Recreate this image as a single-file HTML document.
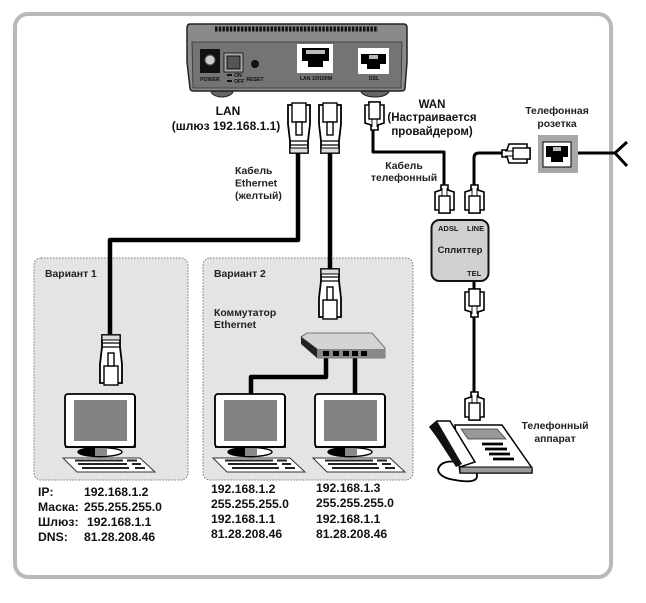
<!DOCTYPE html>
<html><head><meta charset="utf-8">
<style>
html,body{margin:0;padding:0;background:#fff;width:646px;height:603px;overflow:hidden}
svg{display:block}
text{font-family:"Liberation Sans",sans-serif;font-weight:bold;fill:#1a1a1a}
.ip{font-size:12.2px;fill:#111}
.m{font-size:12px;fill:#111}
.s{font-size:10.4px;fill:#222}
.t{font-size:5.2px;fill:#111}
</style></head>
<body>
<svg width="646" height="603" viewBox="0 0 646 603" xmlns="http://www.w3.org/2000/svg">
<defs>
<g id="rj45">
<path d="M1,2H23V21L21,38V50H3V38L1,21Z" fill="#fff" stroke="#000" stroke-width="1.800"/>
<rect x="5" y="0" width="14" height="19" fill="#fff" stroke="#000" stroke-width="1.400"/>
<rect x="9" y="19" width="6" height="13" fill="#fff" stroke="#000" stroke-width="1.400"/>
<path d="M3,38H21M3,42H21" stroke="#000" stroke-width="1.200" fill="none"/>
<rect x="3" y="45" width="18" height="5" fill="#ddd" stroke="#000"/>
</g>
<g id="rj11">
<path d="M6,0H13V5L19,7V25H15V28H4V25H0V7L6,5Z" fill="#fff" stroke="#000" stroke-width="1.600"/>
<rect x="4" y="11" width="11" height="17" fill="#fff" stroke="#000" stroke-width="1.400"/>
<path d="M7,3V11M12,3V11" stroke="#000" stroke-width=".9"/>
</g>
<g id="pc">
<rect x="0" y="0" width="70" height="53" rx="3" fill="#fff" stroke="#000" stroke-width="1.800"/>
<path d="M70,2V53H0" stroke="#000" stroke-width="1.800" fill="none"/>
<rect x="9" y="6" width="53" height="41" fill="#828282"/>
<ellipse cx="35" cy="58" rx="22" ry="4.500" fill="#fff" stroke="#000" stroke-width="1.400"/>
<path d="M13,58Q18,54 30,54V62Q18,62 13,58Z" fill="#000"/>
<rect x="30" y="54" width="12" height="8" fill="#888"/>
<path d="M-2,64H75L90,78H12Z" fill="#fff" stroke="#333" stroke-width="1"/>
<path d="M10,66.500H58M62,66.500H72M13,70H62M67,70H76M17,74H64M70,74H80" stroke="#222" stroke-width="2"/>
</g>
</defs>

<rect x="15" y="14" width="596" height="563" rx="13" fill="#fff" stroke="#b9b9b9" stroke-width="4"/>

<!-- variant panels -->
<rect x="34" y="258" width="154" height="222" rx="7" fill="#e3e5e5" stroke="#777" stroke-width="1" stroke-dasharray="1.500 1.500"/>
<rect x="203" y="258" width="210" height="222" rx="7" fill="#e3e5e5" stroke="#777" stroke-width="1" stroke-dasharray="1.500 1.500"/>

<!-- router -->
<ellipse cx="222" cy="91" rx="11" ry="6" fill="#666" stroke="#222"/>
<ellipse cx="375" cy="91" rx="14" ry="6" fill="#666" stroke="#222"/>
<path d="M190,24H404Q407,24 407,28V62L405,88Q405,91 401,91H194Q190,91 190,88L187,62V28Q187,24 190,24Z" fill="#8a8a8a" stroke="#222" stroke-width="1.500"/>
<path d="M215,29H378" stroke="#111" stroke-width="5" stroke-dasharray="2.500 1.200"/>
<path d="M192,42H402L401,88H193Z" fill="#747474" stroke="#333" stroke-width=".8"/>
<rect x="200" y="49" width="20" height="24" fill="#111"/>
<circle cx="210" cy="60" r="5" fill="#ccc" stroke="#555"/>
<rect x="224" y="53" width="19" height="19" fill="#aaa" stroke="#222"/>
<rect x="227" y="56" width="13" height="13" fill="#555" stroke="#111"/>
<circle cx="255" cy="64" r="4" fill="#111"/>
<rect x="297" y="44" width="36" height="29" fill="#fff"/>
<path d="M302,48H329V61H323V67H308V61H302Z" fill="#000"/>
<path d="M306,50H325V54H306Z" fill="#bbb"/>
<rect x="358" y="48" width="31" height="26" fill="#fff"/>
<path d="M361,54H386V64H380V69H367V64H361Z" fill="#000"/>
<path d="M369,55H378V59H369Z" fill="#bbb"/>
<text class="t" x="210" y="81" text-anchor="middle">POWER</text>
<text class="t" x="234" y="77">ON</text>
<text class="t" x="234" y="83">OFF</text>
<path d="M227,75H232M227,81H232" stroke="#111" stroke-width="2"/>
<text class="t" x="255" y="81" text-anchor="middle">RESET</text>
<text class="t" x="316" y="80" text-anchor="middle">LAN 10/100M</text>
<text class="t" x="374" y="80" text-anchor="middle">DSL</text>

<!-- cables -->
<g fill="none" stroke="#000" stroke-linejoin="round">
<path d="M298,152V240H110V334" stroke-width="4.500"/>
<path d="M330,152V272" stroke-width="4.500"/>
<path d="M373,130V152H444V186" stroke-width="3"/>
<path d="M474,186V158Q474,153 479,153H502" stroke-width="3"/>
<path d="M474,316V393" stroke-width="3"/>
<path d="M474,281V290" stroke-width="3"/>
<path d="M326,358V377H251V394" stroke-width="4.500"/>
<path d="M355,358V394" stroke-width="4.500"/>
<path d="M578,153H615" stroke-width="3"/>
<path d="M627,142L615,153L627,166" stroke-width="3"/>
</g>

<!-- plugs -->
<use href="#rj45" transform="translate(287,103)"/>
<use href="#rj45" transform="translate(318,103)"/>
<use href="#rj45" transform="translate(99,385) scale(1,-1)"/>
<use href="#rj45" transform="translate(318,319) scale(1,-1)"/>
<use href="#rj11" transform="translate(365,130) scale(1,-1)"/>
<use href="#rj11" transform="translate(435,185)"/>
<use href="#rj11" transform="translate(465,185)"/>
<use href="#rj11" transform="translate(502,163) rotate(-90)"/>
<use href="#rj11" transform="translate(465,317) scale(1,-1)"/>
<use href="#rj11" transform="translate(465,392)"/>

<!-- socket -->
<rect x="538" y="135" width="40" height="38" fill="#a8a8a8"/>
<rect x="543" y="142" width="28" height="25" fill="#fff" stroke="#000"/>
<path d="M546,146H568V157H563V162H551V157H546Z" fill="#000"/>
<rect x="553" y="147" width="8" height="4" fill="#bbb"/>

<!-- splitter -->
<rect x="431.500" y="220" width="57" height="61" rx="8" fill="#cfd0d0" stroke="#111" stroke-width="2"/>
<text x="438" y="231" style="font-size:7.500px">ADSL</text>
<text x="467" y="231" style="font-size:7.500px">LINE</text>
<text x="460" y="253" text-anchor="middle" style="font-size:9.500px">Сплиттер</text>
<text x="467" y="276" style="font-size:7.500px">TEL</text>

<!-- computers -->
<use href="#pc" transform="translate(65,394)"/>
<use href="#pc" transform="translate(215,394)"/>
<use href="#pc" transform="translate(315,394)"/>

<!-- switch -->
<path d="M301,337L307,333H372L385,348V358H317V349Z" fill="#d4d4d4" stroke="#555" stroke-width=".8"/>
<path d="M301,337L317,349V358L301,344Z" fill="#222"/>
<rect x="317" y="349" width="68" height="9" fill="#888"/>
<g fill="#000"><rect x="323" y="351" width="6" height="5"/><rect x="333" y="351" width="6" height="5"/><rect x="343" y="351" width="6" height="5"/><rect x="352" y="351" width="6" height="5"/><rect x="361" y="351" width="6" height="5"/></g>

<!-- phone -->
<path d="M465,463Q440,458 438,470Q440,478 455,480Q477,484 477,476Q477,468 468,465" fill="none" stroke="#000" stroke-width="1.800"/>
<path d="M455,425H502L532,468V473H460Z" fill="#fff" stroke="#000" stroke-width="1.500"/>
<path d="M460,467H532V473H460Z" fill="#999" stroke="#000"/>
<path d="M461,429H497L506,439H468Z" fill="#999" stroke="#333" stroke-width=".7"/>
<path d="M482,444H503M485,449H507M489,454H510M493,459H514" stroke="#000" stroke-width="2.800"/>
<path d="M430,427L437,421H450L475,462L460,467Z" fill="#fff" stroke="#000" stroke-width="1.500"/>
<path d="M430,427L437,421L462,464L456,467Z" fill="#111"/>

<!-- labels -->
<text class="m" x="228" y="115" text-anchor="middle">LAN</text>
<text class="m" x="226" y="130" text-anchor="middle">(шлюз 192.168.1.1)</text>
<text class="s" x="235" y="174">Кабель</text>
<text class="s" x="235" y="186.500">Ethernet</text>
<text class="s" x="235" y="199">(желтый)</text>
<text class="m" x="432" y="108" text-anchor="middle" style="font-size:11.500px">WAN</text>
<text class="m" x="432" y="121" text-anchor="middle" style="font-size:11.500px">(Настраивается</text>
<text class="m" x="432" y="135" text-anchor="middle" style="font-size:11.500px">провайдером)</text>
<text class="s" x="404" y="169" text-anchor="middle">Кабель</text>
<text class="s" x="404" y="181" text-anchor="middle">телефонный</text>
<text class="s" x="557" y="114" text-anchor="middle">Телефонная</text>
<text class="s" x="557" y="127" text-anchor="middle">розетка</text>
<text class="s" x="555" y="429" text-anchor="middle">Телефонный</text>
<text class="s" x="555" y="442" text-anchor="middle">аппарат</text>
<text class="s" x="45" y="277">Вариант 1</text>
<text class="s" x="214" y="277">Вариант 2</text>
<text class="s" x="214" y="316">Коммутатор</text>
<text class="s" x="214" y="328">Ethernet</text>

<text class="ip" x="38" y="496">IP:</text><text class="ip" x="84" y="496">192.168.1.2</text>
<text class="ip" x="38" y="511">Маска:</text><text class="ip" x="84" y="511">255.255.255.0</text>
<text class="ip" x="38" y="526">Шлюз:</text><text class="ip" x="87" y="526">192.168.1.1</text>
<text class="ip" x="38" y="541">DNS:</text><text class="ip" x="84" y="541">81.28.208.46</text>

<text class="ip" x="211" y="493">192.168.1.2</text>
<text class="ip" x="211" y="508">255.255.255.0</text>
<text class="ip" x="211" y="523">192.168.1.1</text>
<text class="ip" x="211" y="538">81.28.208.46</text>

<text class="ip" x="316" y="492">192.168.1.3</text>
<text class="ip" x="316" y="507">255.255.255.0</text>
<text class="ip" x="316" y="523">192.168.1.1</text>
<text class="ip" x="316" y="538">81.28.208.46</text>
</svg>
</body></html>
